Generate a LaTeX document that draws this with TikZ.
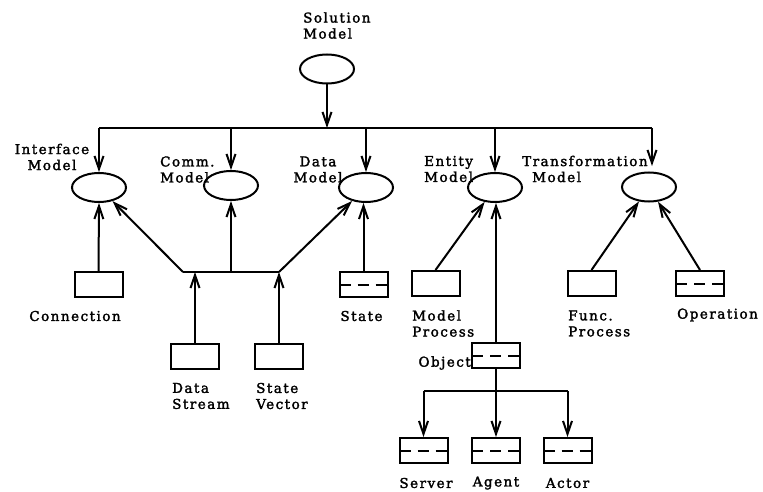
\documentclass[tikz,border=0pt]{standalone}
\usepackage{fontspec}
\newfontfamily\labfont[LetterSpace=11,FakeBold=2]{DejaVu Serif}
\usetikzlibrary{shapes.geometric,arrows.meta}
\begin{document}
\begin{tikzpicture}[x=1pt,y=-1pt,
  conn/.style={draw,line width=2pt},
  arr/.style={conn,-{Straight Barb[length=13pt,width=9pt,line width=2pt]}},
  model/.style={draw,line width=2pt,ellipse,minimum width=54pt,minimum height=29pt,inner sep=0pt},
  leaf/.style={draw,line width=2pt,rectangle,minimum width=48pt,minimum height=25pt,inner sep=0pt},
  dleaf/.style={leaf,path picture={\draw[line width=2pt,dash pattern=on 11pt off 7pt]
      (path picture bounding box.west) -- (path picture bounding box.east);}},
  lab/.style={inner sep=0pt,font=\labfont\fontsize{13.5}{16}\selectfont}]
\useasboundingbox (0,0) rectangle (763,492);

% models (ellipses)
\node[model] (sol)   at (327,69)    {};
\node[model] (iface) at (99,187.5)  {};
\node[model] (comm)  at (231,185.5) {};
\node[model] (data)  at (366,187.5) {};
\node[model] (ent)   at (495,187.5) {};
\node[model] (trans) at (649,187)   {};

% leaves (boxes)
\node[leaf]  (con)  at (98.5,284.5) {};
\node[leaf]  (ds)   at (195,356)    {};
\node[leaf]  (sv)   at (279,356)    {};
\node[dleaf] (st)   at (363.5,284.5){};
\node[leaf]  (mp)   at (435.5,283.5){};
\node[dleaf] (obj)  at (496,355.5)  {};
\node[leaf]  (fp)   at (591.5,283.5){};
\node[dleaf] (op)   at (700,283.5)  {};
\node[dleaf] (srv)  at (423.5,450.5){};
\node[dleaf] (agt)  at (496,450.5)  {};
\node[dleaf] (act)  at (567.5,450.5){};

% labels
\node[lab,align=left,anchor=west] at (303,25.5)  {Solution\\Model};
\node[lab,align=center] at (52,157)    {Interface\\Model};
\node[lab,align=left,anchor=west] at (160,169.5) {Comm.\\Model};
\node[lab,align=center] at (318,169.5) {Data\\Model};
\node[lab,align=left,anchor=west] at (424,169) {Entity\\Model};
\node[lab,align=left,anchor=west] at (522,169) {Transformation\\\hspace*{10pt}Model};
\node[lab] at (75,316)  {Connection};
\node[lab] at (361.5,316) {State};
\node[lab,align=left,anchor=west] at (172,396) {Data\\Stream};
\node[lab,align=left,anchor=west] at (256,396) {State\\Vector};
\node[lab,align=left,anchor=west] at (412,323.5) {Model\\Process};
\node[lab,align=left,anchor=west] at (568,323.5) {Func.\\Process};
\node[lab,anchor=west] at (677,315) {Operation};
\node[lab,anchor=east] at (471,363) {Object};
\node[lab] at (426,483) {Server};
\node[lab] at (496,483) {Agent};
\node[lab] at (567.5,483) {Actor};

% junction points
\coordinate (busL) at (99,128);
\coordinate (busR) at (652,128);
\coordinate (trTip) at (652,166);
\coordinate (tL) at (183,272);
\coordinate (tR) at (279,272);
\coordinate (tM) at (231,272);
\coordinate (oSplit) at (496,391);

% distribution bus from the solution model
\draw[conn] (busL) -- (busR);
\draw[arr] (sol) -- (sol |- busL);
\draw[arr] (busL) -- (iface);
\draw[arr] (comm |- busL) -- (comm);
\draw[arr] (data |- busL) -- (data);
\draw[arr] (ent |- busL) -- (ent);
\draw[arr] (busR) -- (trTip);

% interface / comm / data side
\draw[arr] (con.north) -- (iface.south);
\draw[conn] (tL) -- (tR);
\draw[arr] (tL) -- (iface);
\draw[arr] (tM) -- (comm);
\draw[arr] (tR) -- (data);
\draw[arr] (ds) -- (ds |- tL);
\draw[arr] (sv) -- (tR);
\draw[arr] (st.north) -- (st.north |- data.south);

% entity side
\draw[arr] (mp.north) -- (ent);
\draw[arr] (obj.north) -- (obj.north |- ent.south);
\draw[conn] (obj.south) -- (oSplit);
\draw[conn] (srv |- oSplit) -- (act |- oSplit);
\draw[arr] (srv |- oSplit) -- (srv);
\draw[arr] (oSplit) -- (agt);
\draw[arr] (act |- oSplit) -- (act);

% transformation side
\draw[arr] (fp.north) -- (trans);
\draw[arr] (op.north) -- (trans);
\end{tikzpicture}
\end{document}
